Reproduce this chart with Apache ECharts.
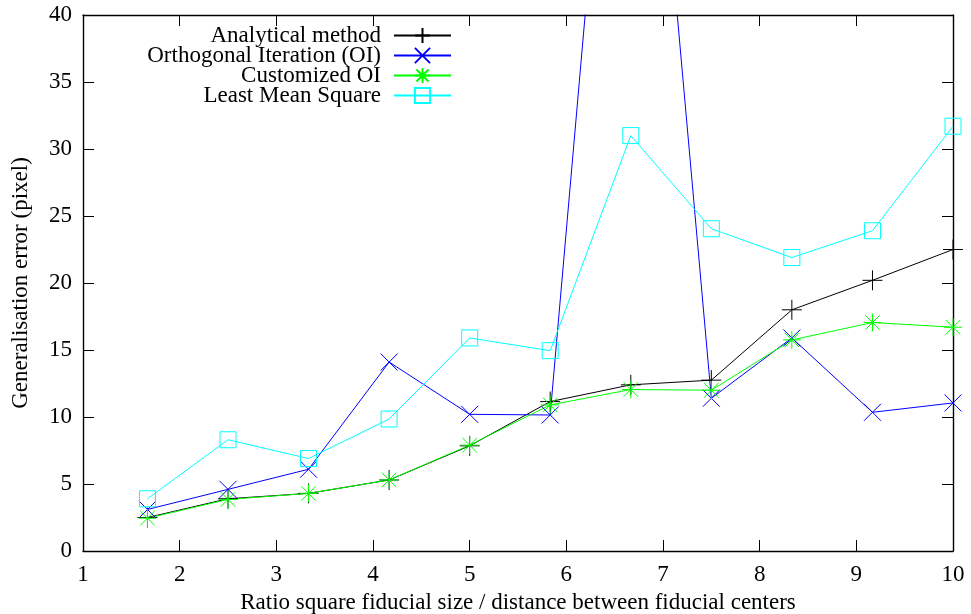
<!DOCTYPE html>
<html>
<head>
<meta charset="utf-8">
<script src="https://cdn.jsdelivr.net/npm/echarts/dist/echarts.min.js"></script>
<style>
  html, body { margin: 0; padding: 0; background: #fff; }
  #chart { width: 971px; height: 614px; }
</style>
</head>
<body>
<div id="chart"></div>
<script>
// ---- data ----
const xValues = [1.667, 2.5, 3.333, 4.167, 5, 5.833, 6.667, 7.5, 8.333, 9.167, 10];
const analytical = [2.5, 3.9, 4.3, 5.3, 7.85, 11.15, 12.4, 12.75, 18.0, 20.2, 22.5];
const orthogonal = [3.1, 4.6, 6.1, 14.1, 10.2, 10.15, 79, 11.4, 15.9, 10.35, 11.05];
const customized = [2.45, 3.85, 4.3, 5.3, 7.9, 10.9, 12.05, 12.0, 15.75, 17.05, 16.7];
const leastMean = [3.9, 8.3, 6.9, 9.85, 15.9, 14.95, 31.0, 24.05, 21.9, 23.9, 31.7];
const seriesNames = ['Analytical method', 'Orthogonal Iteration (OI)', 'Customized OI', 'Least Mean Square'];
const xAxisTitle = 'Ratio square fiducial size / distance between fiducial centers';
const yAxisTitle = 'Generalisation error (pixel)';

const FONT = '"Liberation Serif", "DejaVu Serif", serif';
const FS = 23;
const pts = arr => xValues.map((x, i) => [x, arr[i]]);

const SYM_PLUS = 'path://M0,5L10,5M5,0L5,10';
const SYM_CROSS = 'path://M0,0L10,10M10,0L0,10';
const SYM_STAR = 'path://M0,5L10,5M5,0L5,10M1,1L9,9M9,1L1,9';
const SYM_SQUARE = 'path://M0,0L10,0L10,10L0,10Z';

function mk(name, data, color, symbol, size) {
  return {
    name: name,
    type: 'line',
    data: pts(data),
    symbol: symbol,
    symbolSize: size,
    showAllSymbol: true,
    clip: true,
    lineStyle: { color: color, width: 1 },
    itemStyle: { color: 'rgba(0,0,0,0)', borderColor: color, borderWidth: 1 },
    emphasis: { disabled: true },
    animation: false
  };
}

const chart = echarts.init(document.getElementById('chart'));
const tickCommon = { show: true, inside: true, length: 11, lineStyle: { color: '#000', width: 1 } };
const lineCommon = { show: true, onZero: false, lineStyle: { color: '#000', width: 1.4 } };
chart.setOption({
  animation: false,
  backgroundColor: '#fff',
  textStyle: { fontFamily: FONT, color: '#000' },
  grid: { left: 83, right: 18, top: 15, bottom: 63, containLabel: false, outerBoundsMode: 'none' },
  legend: {
    data: seriesNames,
    orient: 'vertical',
    align: 'right',
    right: 514,
    top: 19,
    itemWidth: 57,
    itemHeight: 19,
    itemGap: -3,
    selectedMode: false,
    textStyle: { fontFamily: FONT, fontSize: FS, color: '#000', padding: [0, 8, 0, 0] }
  },
  xAxis: [{
    type: 'value', min: 1, max: 10, interval: 1, position: 'bottom',
    name: xAxisTitle, nameLocation: 'middle', nameGap: 40,
    nameTextStyle: { fontFamily: FONT, fontSize: FS, color: '#000' },
    axisLine: lineCommon, axisTick: tickCommon, splitLine: { show: false },
    axisLabel: { fontFamily: FONT, fontSize: FS, color: '#000', margin: 12 }
  }, {
    type: 'value', min: 1, max: 10, interval: 1, position: 'top',
    axisLine: lineCommon, axisTick: tickCommon, splitLine: { show: false },
    axisLabel: { show: false }
  }],
  yAxis: [{
    type: 'value', min: 0, max: 40, interval: 5, position: 'left',
    name: yAxisTitle, nameLocation: 'middle', nameGap: 51,
    nameTextStyle: { fontFamily: FONT, fontSize: FS, color: '#000' },
    axisLine: lineCommon, axisTick: tickCommon, splitLine: { show: false },
    axisLabel: { fontFamily: FONT, fontSize: FS, color: '#000', margin: 11 }
  }, {
    type: 'value', min: 0, max: 40, interval: 5, position: 'right',
    axisLine: lineCommon, axisTick: tickCommon, splitLine: { show: false },
    axisLabel: { show: false }
  }],
  series: [
    mk(seriesNames[0], analytical, '#000000', SYM_PLUS, 20),
    mk(seriesNames[1], orthogonal, '#0000ff', SYM_CROSS, 17),
    mk(seriesNames[2], customized, '#00ff00', SYM_STAR, 18),
    mk(seriesNames[3], leastMean, '#00ffff', SYM_SQUARE, 16)
  ]
});
</script>
</body>
</html>
